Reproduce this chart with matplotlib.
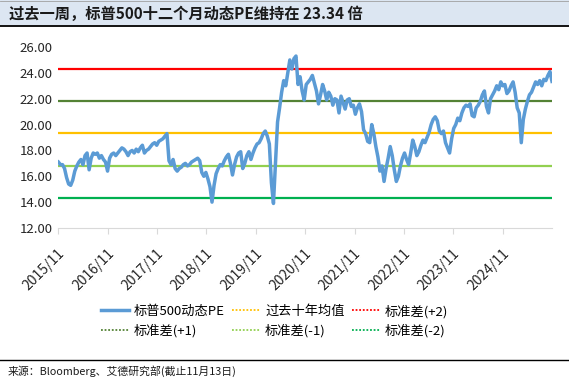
import pandas as pd
import matplotlib.pyplot as plt
import matplotlib.transforms as mtransforms
from matplotlib.lines import Line2D

plt.rcParams['font.family'] = ['Noto Sans CJK SC', 'DejaVu Sans']

title = "过去一周，标普500十二个月动态PE维持在 23.34 倍"
source = "来源：Bloomberg、艾德研究部(截止11月13日)"

# semi-monthly readings, 2015/11 -> 2025/11
pe = [
    17.1, 16.9, 16.9, 16.6, 15.9, 15.4, 15.3, 15.7, 16.4, 16.8, 17.1, 17.3,
    16.9, 17.6, 17.8, 16.5, 17.4, 17.8, 17.7, 17.8, 17.4, 17.6, 17.3, 17.1,
    16.4, 17.4, 17.7, 17.8, 17.6, 17.8, 18.0, 18.2, 18.1, 17.9, 17.6, 17.9,
    18.0, 17.8, 18.1, 17.9, 18.2, 18.4, 17.8, 18.0, 18.1, 18.3, 18.5, 18.6,
    18.4, 18.7, 18.8, 18.9, 19.1, 19.3, 17.2, 16.9, 17.3, 16.6, 16.4, 16.6,
    16.7, 16.9, 17.0, 16.8, 16.9, 17.1, 17.2, 17.3, 17.4, 17.2, 16.3, 16.0,
    16.3, 15.8, 15.2, 14.0, 15.3, 16.2, 16.6, 16.9, 16.8, 17.2, 17.5, 17.7,
    17.0, 16.1, 16.9, 17.5, 17.8, 17.9, 16.6, 17.0, 17.6, 17.9, 17.3, 17.8,
    18.2, 18.5, 18.6, 18.9, 19.3, 19.5, 19.1, 18.5, 15.5, 13.9, 17.0, 20.2,
    21.3, 22.5, 23.4, 23.0, 24.0, 25.0, 24.3, 25.1, 25.3, 23.1, 23.7, 22.6,
    21.9, 23.1, 23.3, 23.5, 23.8, 23.2, 22.6, 21.6, 22.3, 23.1, 22.6, 21.9,
    22.5, 22.2, 21.5, 22.0, 21.9, 20.9, 22.2, 21.7, 21.2, 21.9, 22.0, 21.4,
    21.5, 20.8, 21.3, 21.6, 21.0, 19.6, 19.3, 18.7, 18.6, 20.0, 19.3, 18.3,
    17.5, 16.4, 16.8, 15.6, 16.6, 17.4, 18.3, 17.6, 16.5, 15.6, 16.0, 16.8,
    17.4, 17.8, 17.3, 16.9, 17.8, 18.8, 18.3, 17.6, 17.9, 18.4, 18.8, 18.6,
    19.0, 19.4, 20.0, 20.4, 20.6, 20.3, 19.5, 19.3, 19.5, 18.6, 18.2, 17.8,
    18.9, 19.7, 20.0, 20.5, 20.3, 20.9, 21.3, 21.5, 21.4, 21.6, 20.7, 20.6,
    21.3, 21.5, 21.8, 22.3, 22.6, 21.4, 20.9, 22.0, 22.3, 22.6, 23.0, 22.7,
    23.3, 23.0, 23.1, 22.4, 22.6, 23.0, 23.3, 22.5, 21.3, 20.9, 18.6, 20.4,
    21.2, 21.8, 22.3, 22.5, 22.9, 23.3, 23.1, 23.4, 23.0, 23.5, 23.4, 23.8,
    24.1, 23.34,
]
dates = pd.date_range("2015-11-13", "2025-11-13", periods=len(pe))

band_names = ["过去十年均值", "标准差(+2)", "标准差(+1)", "标准差(-1)", "标准差(-2)"]
band_levels = [19.32, 24.30, 21.81, 16.83, 14.34]
band_colors = ["#ffc000", "#ff0000", "#548235", "#92d050", "#00b050"]

tick_years = list(range(2015, 2025))
tick_dates = [pd.Timestamp(f"{y}-11-13") for y in tick_years]
tick_labels = [f"{y}/11" for y in tick_years]
yticks = [12, 14, 16, 18, 20, 22, 24, 26]

fig = plt.figure(figsize=(5.69, 3.79), dpi=100)

# title bar
fig.patches.append(plt.Rectangle((0, 1 - 25 / 379), 1, 25 / 379, transform=fig.transFigure,
                                 facecolor="#dce6f2", edgecolor="none", zorder=0))
fig.add_artist(Line2D([0, 1], [1 - 25.5 / 379] * 2, color="black", lw=1.3))
fig.add_artist(Line2D([0, 1], [1 - 0.5 / 379] * 2, color="#a0a0a0", lw=0.6))
fig.text(9 / 569, 1 - 14 / 379, title, fontsize=11, fontweight="bold",
         color="#1a1a1a", va="center", ha="left")

# footer
fig.add_artist(Line2D([0, 1], [1 - 360 / 379] * 2, color="black", lw=1.0))
fig.text(8 / 569, 1 - 371 / 379, source, fontsize=7.8, color="#1a1a1a",
         va="center", ha="left")

ax = fig.add_axes([58.4 / 569, 1 - 228 / 379, (552 - 58.4) / 569, (228 - 47) / 379])

for name, lvl, c in zip(band_names, band_levels, band_colors):
    ax.axhline(lvl, color=c, lw=1.6, zorder=2)
ax.plot(dates, pe, color="#5b9bd5", lw=2.5, zorder=3)

ax.set_ylim(12, 26)
ax.set_xlim(dates[0], dates[-1])
ax.set_yticks(yticks)
ax.set_yticklabels([f"{v:.2f}" for v in yticks], fontsize=9.5, color="#262626")
ax.set_xticks(tick_dates)
ax.set_xticklabels(tick_labels, fontsize=10, color="#262626", rotation=45,
                   ha="right", va="center", rotation_mode="anchor")
ax.tick_params(axis="y", length=0, pad=4)
ax.tick_params(axis="x", length=4, color="#d9d9d9", pad=13)
shift = mtransforms.ScaledTranslation(4 / 100, 0, fig.dpi_scale_trans)
for lab in ax.get_xticklabels():
    lab.set_transform(lab.get_transform() + shift)
for s in ["left", "right", "top"]:
    ax.spines[s].set_visible(False)
ax.spines["bottom"].set_color("#d9d9d9")

handles = [Line2D([], [], color="#5b9bd5", lw=2.5)]
labels = ["标普500动态PE"]
for name, c in zip(band_names, band_colors):
    handles.append(Line2D([], [], color=c, lw=1.3, ls=(0, (1, 1))))
    labels.append(name)
# legend fills columns first; reorder so rows read left-to-right
h = [handles[i] for i in [0, 3, 1, 4, 2, 5]]
l = [labels[i] for i in [0, 3, 1, 4, 2, 5]]
fig.legend(h, l, ncol=3, loc="center", bbox_to_anchor=(274.5 / 569, 1 - 321 / 379),
           frameon=False, fontsize=9.5, handlelength=2.1, handletextpad=0.4,
           columnspacing=0.55, labelspacing=0.45)

fig.savefig("out.png", dpi=100)
